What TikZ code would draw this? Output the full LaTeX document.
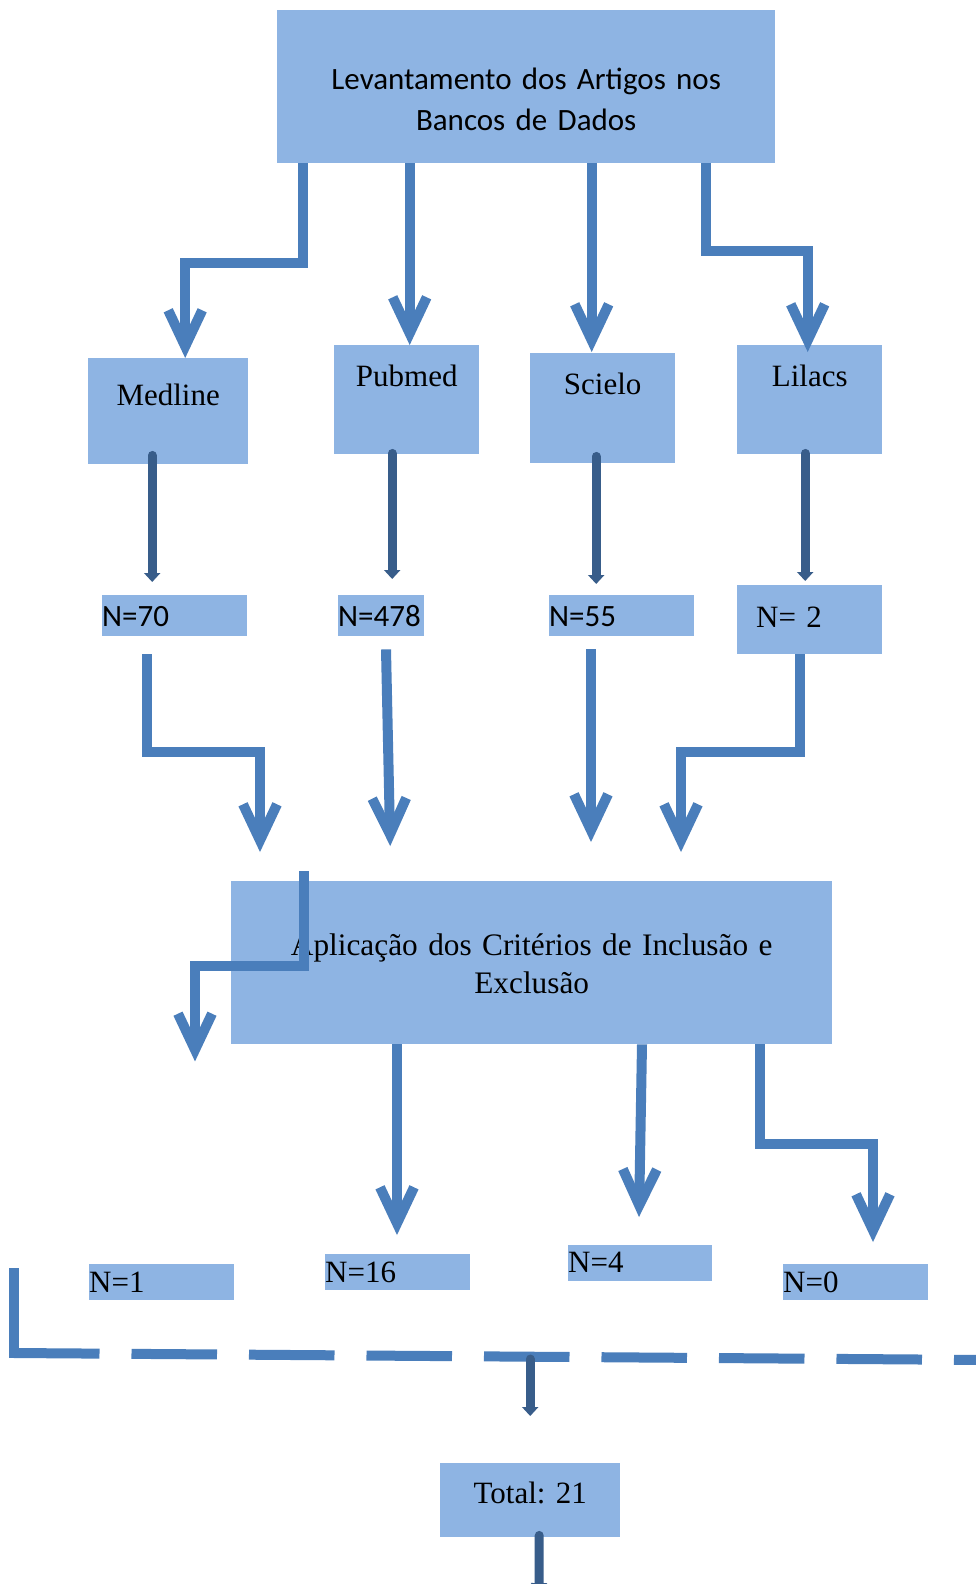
\documentclass[tikz,border=0pt]{standalone}
\usepackage{fontspec}
\setmainfont{Liberation Serif}
\newfontfamily\calibrifam{Carlito}
\usetikzlibrary{arrows.meta}
\frenchspacing

\definecolor{boxblue}{HTML}{8EB4E3}
\definecolor{flowblue}{HTML}{4A7EBB}
\definecolor{linkblue}{HTML}{385D8A}

\tikzset{
  dbbox/.style={fill=boxblue, anchor=north west, inner xsep=0pt, inner ysep=0pt,
    align=center, font=\fontsize{31}{36}\selectfont},
  tallybox/.style={dbbox, align=left},
  countbox/.style={dbbox, align=left, font=\calibrifam\fontsize{31}{36}\selectfont},
  flowline/.style={draw=flowblue, line width=10pt},
  flow/.style={flowline, -{Straight Barb[length=36pt,width=34pt]}},
  link/.style={draw=linkblue, line width=9pt, line cap=round, -{Triangle[length=9pt,width=16pt]}},
}

\begin{document}
\begin{tikzpicture}[x=1pt,y=-1pt]
  \useasboundingbox (0,0) rectangle (976,1584);
  \clip (0,0) rectangle (976,1584);
  \fill[white] (0,0) rectangle (976,1584);

  % Search step
  \node[dbbox, font=\calibrifam\fontsize{31}{41}\selectfont, text width=498pt,
    text height=79pt, text depth=74pt] (top) at (277,10)
    {Levantamento dos Artigos nos\\Bancos de Dados};

  % Databases
  \node[dbbox, text width=160pt, text height=47pt, text depth=59pt] (medline) at (88,358) {Medline};
  \node[dbbox, text width=145pt, text height=41pt, text depth=68pt] (pubmed) at (334,345) {Pubmed};
  \node[dbbox, text width=145pt, text height=41pt, text depth=69pt] (scielo) at (530,353) {Scielo};
  \node[dbbox, text width=145pt, text height=41pt, text depth=68pt] (lilacs) at (737,345) {Lilacs};

  % Counts found
  \node[countbox, text width=145pt, text height=31pt, text depth=10pt] (n70) at (102,595) {N=70};
  \node[countbox, text width=86pt, text height=31pt, text depth=10pt] (n478) at (338,595) {N=478};
  \node[countbox, text width=145pt, text height=31pt, text depth=10pt] (n55) at (549,595) {N=55};
  \node[tallybox, inner xsep=19pt, text width=107pt, text height=42pt, text depth=27pt] (n2) at (737,585) {N= 2};

  % Screening step
  \node[dbbox, font=\fontsize{31.3}{38}\selectfont, text width=601pt,
    text height=74pt, text depth=89pt] (crit) at (231,881)
    {Aplicação dos Critérios de Inclusão e\\Exclusão};

  % Counts kept
  \node[tallybox, text width=145pt, text height=28pt, text depth=8pt] (n1) at (89,1264) {N=1};
  \node[tallybox, text width=145pt, text height=28pt, text depth=8pt] (n16) at (325,1254) {N=16};
  \node[tallybox, text width=144pt, text height=27pt, text depth=9pt] (n4) at (568,1245) {N=4};
  \node[tallybox, text width=145pt, text height=28pt, text depth=8pt] (n0) at (783,1264) {N=0};

  % Result
  \node[dbbox, text width=180pt, text height=40pt, text depth=34pt] (total) at (440,1463) {Total: 21};

  % Search -> databases
  \draw[flow] ([xshift=26]top.south west) |- ([xshift=17,yshift=95]medline.north) -- ([xshift=17]medline.north);
  \draw[flow] ([xshift=3]pubmed.north |- top.south) -- ([xshift=3]pubmed.north);
  \draw[flow] ([xshift=-11]scielo.north |- top.south) -- ([xshift=-11,yshift=1]scielo.north);
  \draw[flow] ([xshift=-69]top.south east) |- ([xshift=-2,yshift=94]lilacs.north) -- ([xshift=-2,yshift=-7]lilacs.north);

  % Databases -> counts
  \draw[link, shorten >=13pt] ([xshift=-16,yshift=9]medline.south) -- ([xshift=-16]medline.south |- n70.north);
  \draw[link, shorten >=16pt] ([xshift=-14.5,yshift=1]pubmed.south) -- ([xshift=-14.5]pubmed.south |- n478.north);
  \draw[link, shorten >=11pt] ([xshift=-6.5,yshift=7]scielo.south) -- ([xshift=-6.5]scielo.south |- n55.north);
  \draw[link, shorten >=4pt] ([xshift=-4.5,yshift=1]lilacs.south) -- ([xshift=-4.5]lilacs.south |- n2.north);

  % Counts -> screening
  \draw[flow, shorten >=29pt] ([xshift=45,yshift=-18]n70.south west) |- ([xshift=29,yshift=129]crit.north west) -- ([xshift=29]crit.north west);
  \draw[flow, shorten >=35pt] ([xshift=48,yshift=-13]n478.south west) -- ([xshift=160]crit.north west);
  \draw[flow, shorten >=39pt] ([xshift=42,yshift=-13]n55.south west) -- ([xshift=42]n55.south west |- crit.north);
  \draw[flow, shorten >=29pt] ([xshift=-9.5]n2.south) |- ([xshift=450,yshift=129]crit.north west) -- ([xshift=450]crit.north west);

  % Screening -> counts kept
  \draw[flow] ([xshift=73,yshift=10]crit.north west) |- ([xshift=-36,yshift=78]crit.south west) -- ([xshift=-36,yshift=-17]crit.south west);
  \draw[flow, shorten >=19pt] ([xshift=166]crit.south west) -- ([xshift=166]crit.south west |- n16.north);
  \draw[flow] ([xshift=411]crit.south west) -- ([xshift=71,yshift=28]n4.north west);
  \draw[flow] ([xshift=-72]crit.south east) |- ([xshift=90,yshift=120]n0.north west) -- ([xshift=90,yshift=22]n0.north west);

  % Sum line
  \coordinate (dashtop) at (14,1268);
  \coordinate (dashcorner) at (14,1353);
  \coordinate (dashend) at (990,1360);
  \draw[flowline] (dashtop) -- ([yshift=-5]dashcorner);
  \draw[flowline, dash pattern=on 85.5pt off 32pt] (dashcorner) -- (dashend);
  \draw[link, shorten >=47pt] ([yshift=104]total.north) -- (total.north);

  \coordinate (exit) at (539,1592);
  \draw[link] ([xshift=9,yshift=2]total.south) -- (exit);
\end{tikzpicture}
\end{document}
